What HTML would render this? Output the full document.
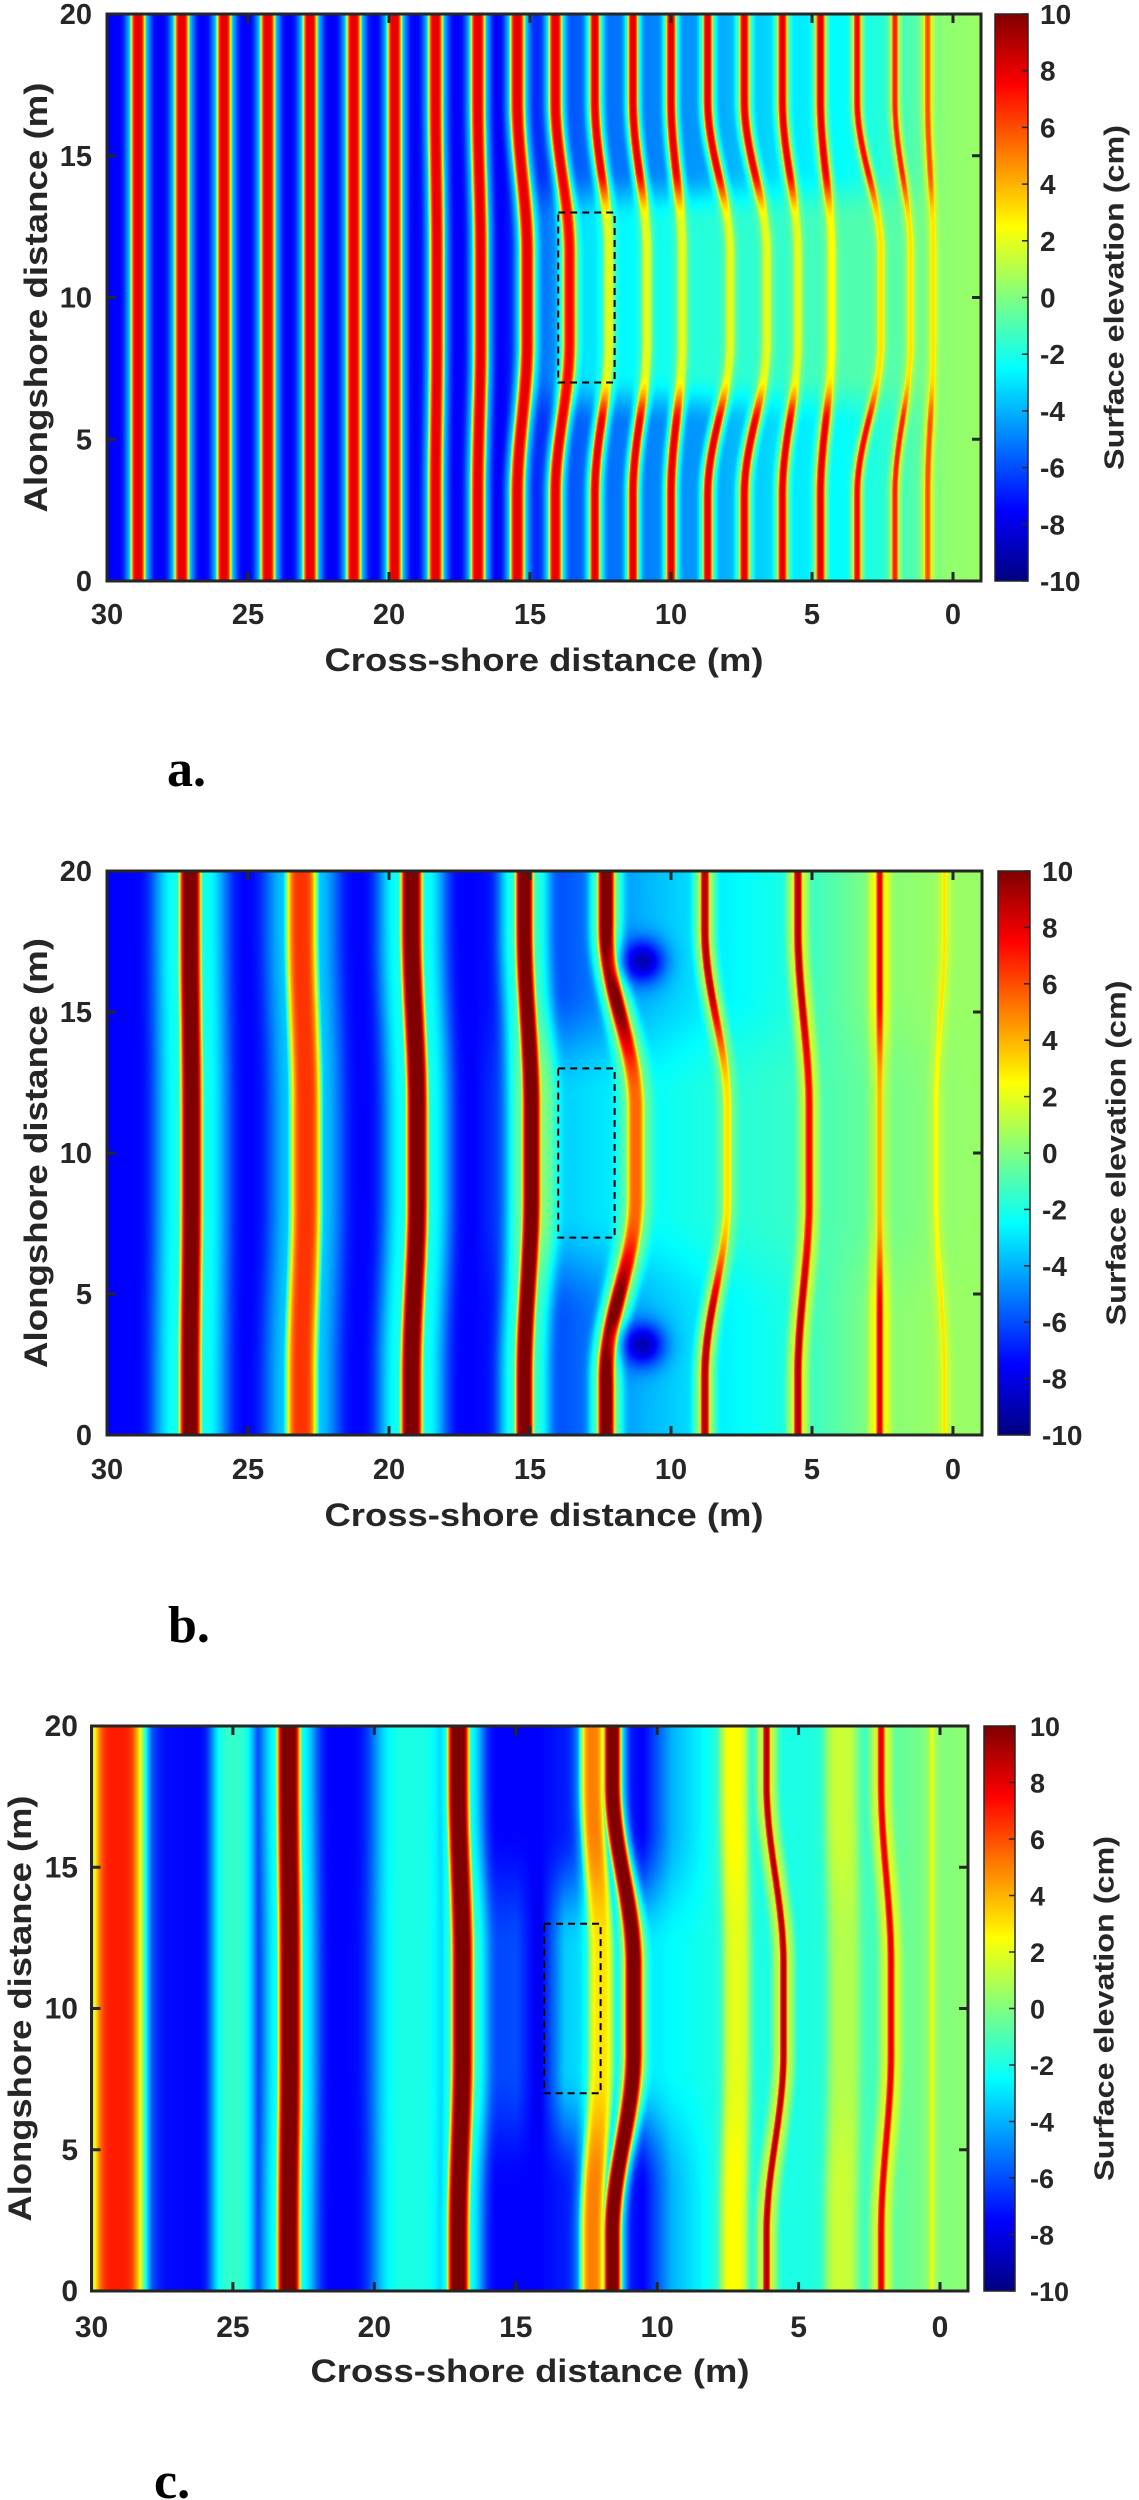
<!DOCTYPE html>
<html><head><meta charset="utf-8">
<style>
html,body{margin:0;padding:0;background:#fff;}
#root{position:relative;width:1139px;height:2500px;overflow:hidden;background:#fff;}
canvas{position:absolute;}
svg{position:absolute;left:0;top:0;}
</style></head>
<body>
<div id="root">
<canvas id="hmA"></canvas>
<canvas id="hmB"></canvas>
<canvas id="hmC"></canvas>
<svg id="ov" width="1139" height="2500"></svg>
</div>
<script>
// ---------- data ----------
const xTickVals = [30,25,20,15,10,5,0];
const yTickVals = [0,5,10,15,20];
const cbTickVals = [-10,-8,-6,-4,-2,0,2,4,6,8,10];
const boxX = [14,12];
const boxY = [7,13];

// panel a
const aCrestXEdge   = [28.9,27.35,25.85,24.3,22.8,21.25,19.8,18.35,16.85,15.45,14.1,12.7,11.35,10.0,8.7,7.4,6.05,4.7,3.4,2.06,0.9];
const aCrestXCenter = [28.9,27.35,25.85,24.3,22.8,21.25,19.8,18.3,16.75,15.1,13.6,12.2,10.85,9.6,7.9,6.6,5.5,4.3,2.55,1.5,0.7];
const aCrestAEdge   = [8,8,8,8,8,8,8,8,8,8,8,8,8,8,8,8,8,8,7.5,7,6];
const aCrestACenter = [8,8,8,8,8,8,8,8,8,8,7.5,2,2,2,2,2,2,2.5,3,3,3];
const aCrestW  = [.28,.28,.28,.28,.28,.28,.28,.28,.28,.28,.25,.2,.19,.19,.18,.18,.17,.17,.14,.12,.12];
const aCrestBW = [.45,.45,.45,.45,.45,.45,.45,.45,.45,.45,.4,.35,.32,.32,.32,.32,.3,.3,.26,.25,.25];
const aTroughX       = [30,16,13,9,6,4,2,0.3,-1];
const aTroughVEdge   = [-7.5,-7.5,-5.5,-4.5,-3,-2.5,-1.5,0.3,0.5];
const aTroughVCenter = [-7.5,-7.5,-3,-1.8,-1.5,-1,-0.8,0.3,0.5];
const aSpotX = [], aSpotY = [], aSpotV = [];

// panel b
const bCrestXEdge   = [27.05,23.1,19.2,15.2,12.3,8.8,5.5,2.6,0.3];
const bCrestXCenter = [27.0,22.95,19.0,14.95,11.25,8.0,5.1,2.6,0.6];
const bCrestAEdge   = [11,6.5,11,11,11,9,9,8,3];
const bCrestACenter = [11,6.5,11,11,5.5,3,7.5,4,2.5];
const bCrestW  = [0.42,0.6,0.42,0.35,0.32,0.17,0.16,0.13,0.1];
const bCrestBW = [1.3,1.3,1.2,0.9,0.6,0.4,0.4,0.4,0.3];
const bTroughX       = [30,25,21,17,14,11,9,6,3,0.5,-1];
const bTroughVEdge   = [-7.5,-7.5,-7.5,-7.5,-6,-4,-3,-2,0,0.5,0.5];
const bTroughVCenter = [-7.5,-7.5,-7.5,-7.5,-3.5,-2.5,-2,-1.5,-0.5,0.3,0.5];
const bSpotX = [11.0,11.0], bSpotY = [3.2,16.8], bSpotV = [-9,-9];

// panel c
const cCrestXEdge   = [29.1,25.0,23.05,18.7,17.05,12.3,11.6,7.3,6.15,3.5,2.1,0.3];
const cCrestXCenter = [29.1,25.0,23.0,18.7,16.9,12.0,10.85,7.2,5.55,3.4,1.75,0.3];
const cCrestAEdge   = [7,-1.5,11,-2,11,5,11,2.5,9,1.5,8,2];
const cCrestACenter = [7,-1.5,11,-2,11,3,11,2,9,1,8,2];
const cCrestW  = [1.0,0.8,0.45,1.4,0.42,0.45,0.33,0.5,0.14,0.6,0.14,0.1];
const cCrestBW = [1.2,0.9,1.0,1.5,0.9,0.6,0.5,0.6,0.4,0.6,0.4,0.3];
const cTroughX       = [30,26,21,15,14.2,13.3,12.5,10.5,9.5,8,5,3,1,-1];
const cTroughVEdge   = [-7,-7.5,-7.5,-7.5,-7.5,-7,-6,-7.5,-4,-2,-2,-1.5,-0.3,0.3];
const cTroughVCenter = [-7,-7.5,-7.5,-6,-8,-3.5,-3,-3,-2.5,-2,-2,-1.5,-0.3,0.3];
const cSpotX = [], cSpotY = [], cSpotV = [];

// ---------- layout (positions, not data) ----------
const PANELS = [
 {id:'a',cv:'hmA',left:107,x0:953,right:981,top:14,bottom:581,cbL:995,cbR:1028,cbLabelX:1040,cbFs:28,cbTitleX:1114,yTitleX:36,yTickRight:92,xTickBase:624,xTitleX:544,xTitleY:671,tickFs:29,labelX:167,labelY:786,
  cx:aCrestXEdge,cxc:aCrestXCenter,ca:aCrestAEdge,cac:aCrestACenter,cw:aCrestW,cbw:aCrestBW,tx:aTroughX,tv:aTroughVEdge,tvc:aTroughVCenter,sx:aSpotX,sy:aSpotY,sv:aSpotV,
  posIn:1.5,posOut:7,ampIn:2.6,ampOut:4.6},
 {id:'b',cv:'hmB',left:107,x0:953,right:982,top:871,bottom:1435,cbL:998,cbR:1030,cbLabelX:1042,cbFs:28,cbTitleX:1116,yTitleX:36,yTickRight:92,xTickBase:1479,xTitleX:544,xTitleY:1526,tickFs:29,labelX:168,labelY:1642,
  cx:bCrestXEdge,cxc:bCrestXCenter,ca:bCrestAEdge,cac:bCrestACenter,cw:bCrestW,cbw:bCrestBW,tx:bTroughX,tv:bTroughVEdge,tvc:bTroughVCenter,sx:bSpotX,sy:bSpotY,sv:bSpotV,
  posIn:1.5,posOut:8,ampIn:2,ampOut:6},
 {id:'c',cv:'hmC',left:91.5,x0:940,right:968,top:1726,bottom:2291,cbL:984,cbR:1015,cbLabelX:1030,cbFs:27,cbTitleX:1104,yTitleX:20,yTickRight:78,xTickBase:2337,xTitleX:530,xTitleY:2382,tickFs:30,labelX:154,labelY:2498,
  cx:cCrestXEdge,cxc:cCrestXCenter,ca:cCrestAEdge,cac:cCrestACenter,cw:cCrestW,cbw:cCrestBW,tx:cTroughX,tv:cTroughVEdge,tvc:cTroughVCenter,sx:cSpotX,sy:cSpotY,sv:cSpotV,
  posIn:1.5,posOut:8,ampIn:2,ampOut:6.5}
];

function clamp01(v){return v<0?0:v>1?1:v;}
function jet(v){
  const t=clamp01((v+10)/20);
  return [clamp01(1.5-Math.abs(4*t-3)),clamp01(1.5-Math.abs(4*t-2)),clamp01(1.5-Math.abs(4*t-1))];
}
function smoothW(dy,inner,outer){
  if(dy<=inner) return 1; if(dy>=outer) return 0;
  const s=(dy-inner)/(outer-inner); return 0.5+0.5*Math.cos(Math.PI*s);
}
function interpDesc(xs,vs,x){
  if(x>=xs[0]) return vs[0];
  for(let i=0;i<xs.length-1;i++){
    if(x<=xs[i]&&x>=xs[i+1]){const f=(xs[i]-x)/(xs[i]-xs[i+1]);return vs[i]+(vs[i+1]-vs[i])*f;}
  }
  return vs[vs.length-1];
}

function renderHeatmap(P){
  const cv=document.getElementById(P.cv);
  const W=Math.round(P.right-P.left), H=Math.round(P.bottom-P.top);
  cv.width=W; cv.height=H;
  cv.style.left=P.left+'px'; cv.style.top=P.top+'px';
  const ctx=cv.getContext('2d');
  const img=ctx.createImageData(W,H);
  const pxPerM=(P.x0-P.left)/30, pxPerMy=H/20;
  const n=P.cx.length;
  const cx=new Array(n), ca=new Array(n);
  for(let py=0;py<H;py++){
    const ym=20-(py+0.5)/pxPerMy, dy=Math.abs(ym-10);
    const wp=smoothW(dy,P.posIn,P.posOut), wa=smoothW(dy,P.ampIn,P.ampOut);
    for(let i=0;i<n;i++){cx[i]=P.cx[i]+(P.cxc[i]-P.cx[i])*wp; ca[i]=P.ca[i]+(P.cac[i]-P.ca[i])*wa;}
    const tv=P.tv.map((v,i)=>v+(P.tvc[i]-v)*wa);
    for(let px=0;px<W;px++){
      const xm=30-(px+0.5)/pxPerM;
      const T=interpDesc(P.tx,tv,xm);
      let m=0;
      for(let i=0;i<n;i++){
        const d=xm-cx[i];
        if(Math.abs(d)>4) continue;
        const r=d/P.cw[i];
        const g1=Math.exp(-r*r*r*r);
        const q=d/P.cbw[i];
        const g2=0.3*Math.exp(-q*q*q*q);
        const b=Math.max(g1,g2);
        const c=(ca[i]-T)*b;
        if(c>m) m=c;
      }
      let v=T+m;
      for(let k=0;k<P.sx.length;k++){
        const dx=xm-P.sx[k], dyy=ym-P.sy[k];
        const e=Math.exp(-(dx*dx+dyy*dyy)/0.6);
        v=v+(P.sv[k]-v)*e;
      }
      const c=jet(v), o=(py*W+px)*4;
      img.data[o]=c[0]*255; img.data[o+1]=c[1]*255; img.data[o+2]=c[2]*255; img.data[o+3]=255;
    }
  }
  ctx.putImageData(img,0,0);
}

const NS='http://www.w3.org/2000/svg';
const ov=document.getElementById('ov');
function mk(tag,attrs,parent){
  const e=document.createElementNS(NS,tag);
  for(const k in attrs) e.setAttribute(k,attrs[k]);
  (parent||ov).appendChild(e); return e;
}

const defs=mk('defs',{});
const grad=mk('linearGradient',{id:'jetGrad',x1:'0',y1:'1',x2:'0',y2:'0'},defs);
for(let i=0;i<=40;i++){
  const v=-10+i*0.5, c=jet(v);
  mk('stop',{offset:(i/40).toFixed(3),'stop-color':'rgb('+Math.round(c[0]*255)+','+Math.round(c[1]*255)+','+Math.round(c[2]*255)+')'},grad);
}

const FONT='"Liberation Sans", Arial, sans-serif';
PANELS.forEach(P=>{
  renderHeatmap(P);
  const g=mk('g',{});
  
  
  const sx=m=>P.left+(30-m)*(P.x0-P.left)/30;
  const sy=m=>P.bottom-m*(P.bottom-P.top)/20;
  const box=mk('rect',{x:sx(boxX[0]),y:sy(boxY[1]),width:sx(boxX[1])-sx(boxX[0]),height:sy(boxY[0])-sy(boxY[1]),fill:'none',stroke:'#000','stroke-width':2,'stroke-dasharray':'7,5'},g);
  
  
  const fr=mk('rect',{x:P.left,y:P.top,width:P.right-P.left,height:P.bottom-P.top,fill:'none',stroke:'#262626','stroke-width':3},g);
  
  
  xTickVals.forEach(v=>{
    const x=sx(v);
    const t1=mk('line',{x1:x,x2:x,y1:P.bottom,y2:P.bottom-9,stroke:'#262626','stroke-width':3},g);
    
    
    mk('line',{x1:x,x2:x,y1:P.top,y2:P.top+9,stroke:'#262626','stroke-width':3},g);
    const tl=mk('text',{x:x,y:P.xTickBase,'text-anchor':'middle','font-family':FONT,'font-weight':'bold','font-size':P.tickFs,fill:'#262626'},g);
    tl.textContent=v;
    
    
  });
  yTickVals.forEach(v=>{
    const y=sy(v);
    const t1=mk('line',{x1:P.left,x2:P.left+9,y1:y,y2:y,stroke:'#262626','stroke-width':3},g);
    
    
    mk('line',{x1:P.right,x2:P.right-9,y1:y,y2:y,stroke:'#262626','stroke-width':3},g);
    const tl=mk('text',{x:P.yTickRight,y:y+10,'text-anchor':'end','font-family':FONT,'font-weight':'bold','font-size':P.tickFs,fill:'#262626'},g);
    tl.textContent=v;
    
    
  });
  const xt=mk('text',{x:P.xTitleX,y:P.xTitleY,'text-anchor':'middle','font-family':FONT,'font-weight':'bold','font-size':32,fill:'#262626',textLength:439,lengthAdjust:'spacingAndGlyphs'},g);
  xt.textContent='Cross-shore distance (m)';
  
  
  const ym=(P.top+P.bottom)/2;
  const yt=mk('text',{x:0,y:0,transform:'translate('+P.yTitleX+','+ym+') rotate(-90)','text-anchor':'middle','dominant-baseline':'central','font-family':FONT,'font-weight':'bold','font-size':32,fill:'#262626',textLength:(P.id==='c'?426:430),lengthAdjust:'spacingAndGlyphs'},g);
  yt.textContent='Alongshore distance (m)';
  
  
  const cb=mk('rect',{x:P.cbL,y:P.top,width:P.cbR-P.cbL,height:P.bottom-P.top,fill:'url(#jetGrad)',stroke:'#262626','stroke-width':1.5},g);
  
  
  cbTickVals.forEach(v=>{
    const y=P.bottom-(v+10)/20*(P.bottom-P.top);
    mk('line',{x1:P.cbR-6,x2:P.cbR,y1:y,y2:y,stroke:'#262626','stroke-width':1.5},g);
    const tl=mk('text',{x:P.cbLabelX,y:y+10,'font-family':FONT,'font-weight':'bold','font-size':P.cbFs,fill:'#262626'},g);
    tl.textContent=v;
    
    
  });
  const ct=mk('text',{x:0,y:0,transform:'translate('+P.cbTitleX+','+ym+') rotate(-90)','text-anchor':'middle','dominant-baseline':'central','font-family':FONT,'font-weight':'bold','font-size':28,fill:'#262626',textLength:345,lengthAdjust:'spacingAndGlyphs'},g);
  ct.textContent='Surface elevation (cm)';
  
  
  const pl=mk('text',{x:P.labelX,y:P.labelY,'font-family':'"Liberation Serif", serif','font-weight':'bold','font-size':52,fill:'#000'},g);
  pl.textContent=P.id+'.';
  
  
});
</script>
</body></html>
